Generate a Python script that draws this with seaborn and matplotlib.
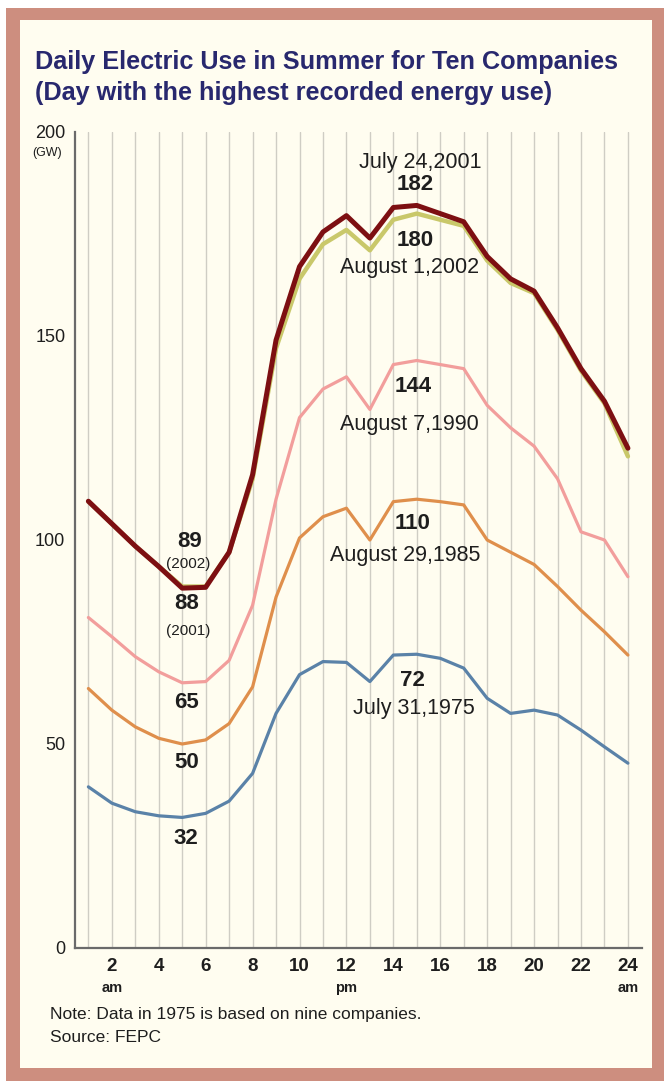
import numpy as np
import pandas as pd
import matplotlib
matplotlib.use("Agg")
import matplotlib.pyplot as plt
import matplotlib.patches as mpatches
import matplotlib.transforms as mtransforms
import seaborn as sns

# ---------------- data ----------------
hours = list(range(1, 25))
use_2001 = [109.5, 104, 98.5, 93.5, 88.2, 88.4, 97, 116, 149, 167, 175.5, 179.5,
            174, 181.5, 182, 180, 178, 169.5, 164, 161, 152, 142, 134, 122.5]
use_2002 = [109.5, 104, 98.5, 93.5, 88.6, 88.6, 97, 115, 147, 164, 172.5, 176,
            171, 178.5, 180, 178.5, 177, 168.5, 163, 160.5, 151.5, 141.5, 133.5, 120.5]
use_1990 = [81, 76.3, 71.4, 67.7, 65, 65.3, 70.5, 84, 110, 130, 137, 140,
            132, 143, 144, 143, 142, 133, 127.5, 123, 115, 102, 100, 91]
use_1985 = [63.6, 58.3, 54.2, 51.4, 50, 51, 55, 64, 86, 100.5, 105.7, 107.8,
            100, 109.4, 110, 109.4, 108.6, 100, 97, 94, 88.6, 82.8, 77.5, 71.8]
use_1975 = [39.5, 35.5, 33.4, 32.4, 32, 33, 36, 42.8, 57.5, 67, 70.2, 70,
            65.3, 71.8, 72, 71, 68.6, 61.2, 57.5, 58.3, 57.1, 53.4, 49.3, 45.3]

series_names = ["1975", "1985", "1990", "2002", "2001"]
peak_dates = {"2001": "July 24,2001", "2002": "August 1,2002",
              "1990": "August 7,1990", "1985": "August 29,1985",
              "1975": "July 31,1975"}
xtick_values = list(range(2, 25, 2))
xtick_labels = [str(v) for v in xtick_values]
ampm_labels = {2: "am", 12: "pm", 24: "am"}
ytick_values = [0, 50, 100, 150, 200]

values = {"2001": use_2001, "2002": use_2002, "1990": use_1990,
          "1985": use_1985, "1975": use_1975}
df = pd.DataFrame([{"hour": h, "value": v, "series": s}
                   for s in series_names for h, v in zip(hours, values[s])])

colors = {"2001": "#7d0f12", "2002": "#c9c86a", "1990": "#f29e9c",
          "1985": "#df8f4c", "1975": "#5a82a8"}
widths = {"2001": 3.6, "2002": 3.2, "1990": 2.3, "1985": 2.3, "1975": 2.3}

# ---------------- figure ----------------
sns.set_theme(style="white")
plt.rcParams["font.family"] = ["Liberation Sans", "DejaVu Sans"]

W, H = 667, 1084
fig = plt.figure(figsize=(W / 100, H / 100), dpi=100, facecolor="white")

def fx(px):
    return px / W

def fy(py):
    return 1 - py / H

# border + cream panel
fig.patches.append(mpatches.Rectangle((fx(6), fy(1081)), fx(664) - fx(6), fy(8) - fy(1081),
                                      transform=fig.transFigure, facecolor="#cd8e7f",
                                      edgecolor="none", zorder=-10))
fig.patches.append(mpatches.Rectangle((fx(20), fy(1068)), fx(652) - fx(20), fy(20) - fy(1068),
                                      transform=fig.transFigure, facecolor="#fffdf0",
                                      edgecolor="none", zorder=-9))

ax = fig.add_axes([fx(75), fy(948), fx(642) - fx(75), fy(132) - fy(948)])
ax.set_facecolor("none")

for s in ["1975", "1985", "1990", "2002", "2001"]:
    sns.lineplot(data=df[df.series == s], x="hour", y="value", ax=ax,
                 color=colors[s], linewidth=widths[s], legend=False,
                 solid_joinstyle="round", solid_capstyle="round", zorder=3)

ax.set_xlim(0.43, 24.6)
ax.set_ylim(0, 200)
ax.set_xlabel("")
ax.set_ylabel("")

ax.set_xticks(xtick_values)
ax.set_xticklabels(xtick_labels, fontsize=13.5, fontweight="bold", color="#1e1e1e")
ax.set_xticks(hours, minor=True)
ax.set_yticks(ytick_values)
ax.set_yticklabels([str(v) for v in ytick_values], fontsize=13, color="#1e1e1e")
ax.tick_params(axis="both", which="both", length=0)
ax.tick_params(axis="x", pad=7)
ax.tick_params(axis="y", pad=7)

ax.grid(False)
ax.xaxis.grid(True, which="both", color="#cfcdc4", linewidth=1.0)
ax.set_axisbelow(True)

for side in ["top", "right"]:
    ax.spines[side].set_visible(False)
ax.spines["left"].set_color("#6a6a6a")
ax.spines["left"].set_linewidth(1.6)
ax.spines["bottom"].set_color("#6a6a6a")
ax.spines["bottom"].set_linewidth(1.6)

# am / pm below tick labels
trans = mtransforms.blended_transform_factory(ax.transData, ax.transAxes)
for h, lab in ampm_labels.items():
    ax.text(h, -0.049, lab, transform=trans, ha="center", va="center",
            fontsize=10.5, fontweight="bold", color="#1e1e1e")

# unit label
fig.text(fx(47), fy(153), "(GW)", ha="center", va="center", fontsize=9, color="#1e1e1e")

# ---------------- annotations (anchored on data) ----------------
def ann(hour_val, val, text, dx_px, dy_px, size, weight="normal"):
    ax.annotate(text, xy=(hour_val, val), xytext=(dx_px * 0.72, dy_px * 0.72),
                textcoords="offset points", ha="center", va="center",
                fontsize=size, fontweight=weight, color="#1e1e1e", zorder=5)

peak = {s: (hours[int(np.argmax(values[s]))], max(values[s])) for s in series_names}
low = {s: (hours[int(np.argmin(values[s]))], min(values[s])) for s in series_names}

DATE_FS = 15.5
NUM_FS = 16

h, v = peak["2001"]
ann(h, v, f"{v:.0f}", -2, 21, NUM_FS, "bold")
ann(h, v, peak_dates["2001"], 3, 43, DATE_FS)
h, v = peak["2002"]
ann(h, v, f"{v:.0f}", -2, -27, NUM_FS, "bold")
ann(h, v, peak_dates["2002"], -7, -54, DATE_FS)
h, v = peak["1990"]
ann(h, v, f"{v:.0f}", -4, -26, NUM_FS, "bold")
ann(h, v, peak_dates["1990"], -7, -64, DATE_FS)
h, v = peak["1985"]
ann(h, v, f"{v:.0f}", -4, -24, NUM_FS, "bold")
ann(h, v, peak_dates["1985"], -12, -56, DATE_FS)
h, v = peak["1975"]
ann(h, v, f"{v:.0f}", -4, -26, NUM_FS, "bold")
ann(h, v, peak_dates["1975"], -3, -54, DATE_FS)

h, v = low["2002"]
ann(h, v, f"{v:.0f}", 7, 45, NUM_FS, "bold")
ann(h, v, "(2002)", 6, 23, 11)
h, v = low["2001"]
ann(h, v, f"{v:.0f}", 4, -15, NUM_FS, "bold")
ann(h, v, "(2001)", 6, -43, 11)
h, v = low["1990"]
ann(h, v, f"{v:.0f}", 4, -20, NUM_FS, "bold")
h, v = low["1985"]
ann(h, v, f"{v:.0f}", 4, -18, NUM_FS, "bold")
h, v = low["1975"]
ann(h, v, f"{v:.0f}", 4, -21, NUM_FS, "bold")

# ---------------- titles / notes ----------------
fig.text(fx(35), fy(62), "Daily Electric Use in Summer for Ten Companies",
         ha="left", va="center", fontsize=18.2, fontweight="bold", color="#28286e")
fig.text(fx(35), fy(93), "(Day with the highest recorded energy use)",
         ha="left", va="center", fontsize=18.2, fontweight="bold", color="#28286e")
fig.text(fx(50), fy(1015), "Note: Data in 1975 is based on nine companies.",
         ha="left", va="center", fontsize=12.5, color="#1e1e1e")
fig.text(fx(50), fy(1037), "Source: FEPC",
         ha="left", va="center", fontsize=12.5, color="#1e1e1e")

fig.savefig("out.png", dpi=100, facecolor="white")
